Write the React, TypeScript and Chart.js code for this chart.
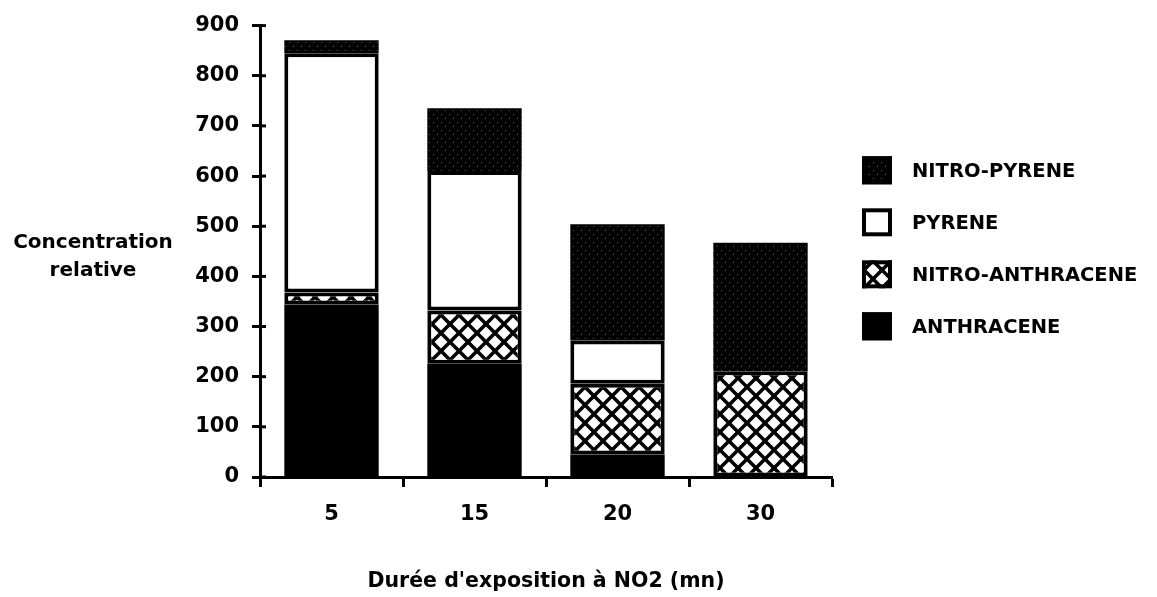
import React, { useEffect, useRef } from 'react';
import { Chart, registerables } from 'chart.js';

Chart.register(...registerables);

// ---- data ----
const categories = ['5', '15', '20', '30'];
const anthracene = [344, 226, 45, null];
const nitroAnthracene = [24, 106, 141, 211];
const pyrene = [477, 278, 86, null];
const nitroPyrene = [26, 125, 232, 256];
const seriesLabels = ['ANTHRACENE', 'NITRO-ANTHRACENE', 'PYRENE', 'NITRO-PYRENE'];
const yTitleLines = ['Concentration', 'relative'];
const xTitle = "Durée d'exposition à NO2 (mn)";
const yMin = 0;
const yMax = 900;
const yStep = 100;

const FONT = '"DejaVu Sans", "Liberation Sans", sans-serif';

function makeCrossHatch(): CanvasPattern | string {
  const s = 18;
  const c = document.createElement('canvas');
  c.width = s;
  c.height = s;
  const g = c.getContext('2d');
  if (!g) return '#888';
  g.fillStyle = '#fff';
  g.fillRect(0, 0, s, s);
  g.strokeStyle = '#000';
  g.lineWidth = 3.5;
  for (const k of [-s, 0, s]) {
    g.beginPath();
    g.moveTo(k, 0);
    g.lineTo(k + s, s);
    g.stroke();
    g.beginPath();
    g.moveTo(k + s, 0);
    g.lineTo(k, s);
    g.stroke();
  }
  return g.createPattern(c, 'repeat') || '#888';
}

function makeStipple(): CanvasPattern | string {
  const s = 8;
  const c = document.createElement('canvas');
  c.width = s;
  c.height = s;
  const g = c.getContext('2d');
  if (!g) return '#111';
  g.fillStyle = '#000';
  g.fillRect(0, 0, s, s);
  g.fillStyle = '#5a5a5a';
  g.fillRect(1, 2, 1, 1);
  g.fillRect(5, 6, 1, 1);
  return g.createPattern(c, 'repeat') || '#111';
}

const yTitlePlugin = {
  id: 'yTitleHorizontal',
  afterDraw(chart: any) {
    const { ctx, chartArea } = chart;
    ctx.save();
    ctx.font = `bold 20px ${FONT}`;
    ctx.fillStyle = '#000';
    ctx.textAlign = 'center';
    ctx.textBaseline = 'middle';
    const cy = (chartArea.top + chartArea.bottom) / 2;
    yTitleLines.forEach((t, i) => {
      ctx.fillText(t, 93, cy - 9 + i * 28);
    });
    ctx.restore();
  },
};

const innerTickPlugin = {
  id: 'innerTicks',
  afterDraw(chart: any) {
    const { ctx, chartArea } = chart;
    const y = chart.scales.y;
    ctx.save();
    ctx.strokeStyle = '#000';
    ctx.lineWidth = 3;
    y.ticks.forEach((t: any) => {
      const p = y.getPixelForValue(t.value);
      ctx.beginPath();
      ctx.moveTo(chartArea.left, p);
      ctx.lineTo(chartArea.left + 6, p);
      ctx.stroke();
    });
    ctx.restore();
  },
};

const legendPlugin = {
  id: 'customLegend',
  afterDraw(chart: any) {
    const { ctx, chartArea } = chart;
    const ds = chart.data.datasets;
    const n = ds.length;
    const lx = 862;
    const bw = 30;
    const bh = 28;
    const tx = 912;
    const gap = 52;
    const center = (chartArea.top + chartArea.bottom) / 2 - 3;
    ctx.save();
    for (let j = 0; j < n; j++) {
      const d = ds[n - 1 - j];
      const cy = center + (j - (n - 1) / 2) * gap;
      ctx.fillStyle = d.backgroundColor;
      ctx.fillRect(lx, cy - bh / 2, bw, bh);
      ctx.strokeStyle = '#000';
      ctx.lineWidth = 4;
      ctx.strokeRect(lx + 2, cy - bh / 2 + 2, bw - 4, bh - 4);
      ctx.fillStyle = '#000';
      ctx.font = `bold 19.5px ${FONT}`;
      ctx.textAlign = 'left';
      ctx.textBaseline = 'middle';
      ctx.fillText(d.label, tx, cy + 2);
    }
    ctx.restore();
  },
};

export default function App() {
  const ref = useRef<HTMLCanvasElement>(null);

  useEffect(() => {
    document.body.style.margin = '0';
    const canvas = ref.current;
    if (!canvas) return;
    const hatch = makeCrossHatch();
    const stipple = makeStipple();
    const common = {
      borderColor: '#000',
      borderWidth: 4,
      borderSkipped: false,
      barPercentage: 0.66,
      categoryPercentage: 1,
      stack: 's',
    };
    const chart = new Chart(canvas, {
      type: 'bar',
      data: {
        labels: categories,
        datasets: [
          { ...common, borderWidth: 0, label: seriesLabels[0], data: anthracene, backgroundColor: '#000' },
          { ...common, label: seriesLabels[1], data: nitroAnthracene, backgroundColor: hatch },
          { ...common, label: seriesLabels[2], data: pyrene, backgroundColor: '#fff' },
          { ...common, borderWidth: 0, label: seriesLabels[3], data: nitroPyrene, backgroundColor: stipple },
        ] as any,
      },
      options: {
        responsive: false,
        animation: false,
        layout: { padding: { left: 0, right: 325, top: 25, bottom: 0 } },
        plugins: {
          legend: { display: false },
          tooltip: { enabled: false },
        },
        scales: {
          x: {
            stacked: true,
            grid: {
              display: true,
              drawOnChartArea: false,
              drawTicks: true,
              tickLength: 10,
              tickWidth: 3,
              tickColor: '#000',
              offset: true,
            },
            border: { display: true, color: '#000', width: 3 },
            ticks: {
              color: '#000',
              font: { family: FONT, size: 21, weight: 'bold' },
              padding: 15,
            },
            title: {
              display: true,
              text: xTitle,
              color: '#000',
              font: { family: FONT, size: 20.5, weight: 'bold' },
              padding: { top: 0, bottom: 3 },
            },
            afterFit: (s: any) => {
              s.height = 120;
            },
          },
          y: {
            stacked: true,
            min: yMin,
            max: yMax,
            ticks: {
              stepSize: yStep,
              color: '#000',
              font: { family: FONT, size: 21, weight: 'bold' },
              padding: 13,
            },
            grid: {
              display: true,
              drawOnChartArea: false,
              drawTicks: true,
              tickLength: 8,
              tickWidth: 3,
              tickColor: '#000',
            },
            border: { display: true, color: '#000', width: 3 },
            afterFit: (s: any) => {
              s.width = 260;
            },
          },
        },
      } as any,
      plugins: [yTitlePlugin, innerTickPlugin, legendPlugin],
    });
    return () => chart.destroy();
  }, []);

  return <canvas ref={ref} width={1157} height={597} style={{ display: 'block' }} />;
}
